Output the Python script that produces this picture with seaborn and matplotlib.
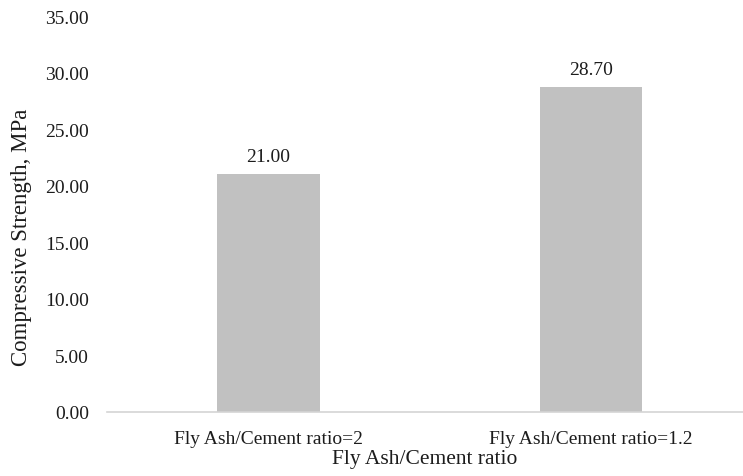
import matplotlib
matplotlib.use("Agg")
import matplotlib.pyplot as plt
import seaborn as sns
import pandas as pd

categories = ["Fly Ash/Cement ratio=2", "Fly Ash/Cement ratio=1.2"]
strength = [21.00, 28.70]
yticks = [0, 5, 10, 15, 20, 25, 30, 35]

sns.set_theme(style="white")
plt.rcParams["font.family"] = ["Liberation Serif", "DejaVu Serif"]

df = pd.DataFrame({"ratio": categories, "strength": strength})

fig = plt.figure(figsize=(7.43, 4.77), dpi=100)
ax = fig.add_axes([107 / 743, 1 - 413 / 477, 636 / 743, (413 - 17) / 477])

sns.barplot(data=df, x="ratio", y="strength", color="#c1c1c1", width=0.317,
            saturation=1, ax=ax, edgecolor="none")

text_color = "#1c1c1c"
for i, v in enumerate(strength):
    ax.annotate(f"{v:.2f}", (i, v), xytext=(0, 6.5), textcoords="offset points",
                ha="center", va="bottom", fontsize=14, color=text_color)

ax.set_ylim(0, 35)
ax.set_xlim(-0.5, 1.47)
ax.set_yticks(yticks)
ax.set_yticklabels([f"{t:.2f}" for t in yticks], fontsize=14, color=text_color)
ax.tick_params(axis="y", length=0, pad=13)
ax.tick_params(axis="x", length=0, pad=13, labelsize=14, labelcolor=text_color)
ax.set_xlabel("Fly Ash/Cement ratio", fontsize=15.5, color=text_color, labelpad=1.5)
ax.set_ylabel("Compressive Strength, MPa", fontsize=16.5, color=text_color)
# axis title sits a little below the vertical middle of the plot area
ax.yaxis.set_label_coords(-107 / 636 + 22 / 636, 0.444)
ax.yaxis.label.set_verticalalignment("center")

for side in ["top", "right", "left"]:
    ax.spines[side].set_visible(False)
ax.spines["bottom"].set_color("#d4d4d4")
ax.spines["bottom"].set_linewidth(1.2)

fig.savefig("out.png", dpi=100)
